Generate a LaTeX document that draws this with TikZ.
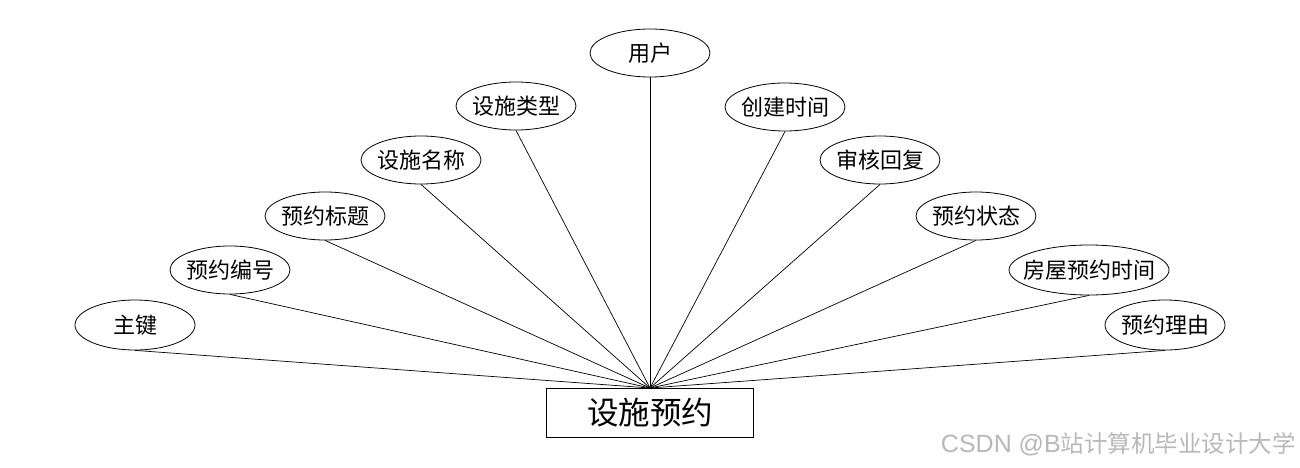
\documentclass[tikz,border=0pt]{standalone}
\usepackage{fontspec}
\setmainfont{Noto Sans CJK SC}
\newfontfamily\latinwm{Liberation Sans}
\usetikzlibrary{shapes.geometric}
\newcommand{\zw}[1]{\makebox[0pt][c]{#1}}
\begin{document}
\begin{tikzpicture}[x=1pt,y=-1pt,
  attr/.style={draw=black, line width=0.8pt, ellipse, minimum width=120pt, minimum height=48pt, inner sep=0pt, font=\fontsize{22}{24}\selectfont},
  ent/.style={draw=black, line width=0.8pt, rectangle, minimum width=207pt, minimum height=49pt, inner sep=0pt, font=\fontsize{31.5}{33}\selectfont},
  link/.style={draw=black, line width=0.7pt}]
\useasboundingbox (0,0) rectangle (1300,468);
\node[ent] (E) at (650,413) {设施预约};
\coordinate (C) at (650,388);
\node[attr] (a1) at (650,53) {\zw{用户}};
\node[attr] (a2) at (516,106) {\zw{设施类型}};
\node[attr] (a3) at (785,107) {\zw{创建时间}};
\node[attr] (a4) at (421,160) {\zw{设施名称}};
\node[attr] (a5) at (880,160) {\zw{审核回复}};
\node[attr] (a6) at (325,216) {\zw{预约标题}};
\node[attr] (a7) at (976,216) {\zw{预约状态}};
\node[attr] (a8) at (230,270) {\zw{预约编号}};
\node[attr, minimum width=160pt, minimum height=50pt] (a9) at (1089,270) {\zw{房屋预约时间}};
\node[attr, minimum height=50pt] (a10) at (135,325) {\zw{主键}};
\node[attr, minimum height=50pt] (a11) at (1165,325) {\zw{预约理由}};
\foreach \n in {a1,a2,a3,a4,a5,a6,a7,a8,a9,a10,a11}{
  \draw[link] (\n.south) -- (C);
}
\node[anchor=east, text=black!28, inner sep=0pt, font=\fontsize{23.5}{25}\selectfont] (wm) at (1296,444) {{\latinwm\fontsize{25}{27}\selectfont CSDN @B}站计算机毕业设计大学};
\end{tikzpicture}
\end{document}
